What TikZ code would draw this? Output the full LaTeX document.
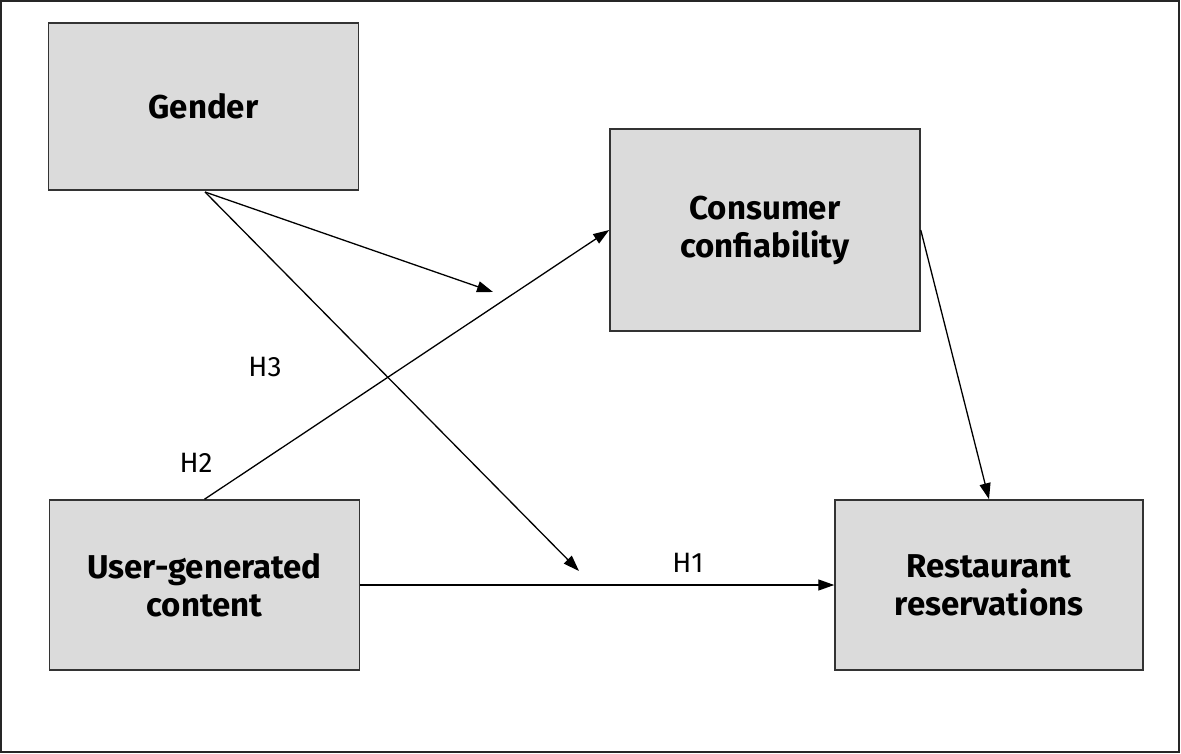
\documentclass[tikz,border=0pt]{standalone}
\usepackage{fontspec}
\setmainfont{Fira Sans}
\usetikzlibrary{arrows.meta}
\begin{document}
\begin{tikzpicture}[x=1pt,y=-1pt,
  box/.style={draw=black!80, line width=1.5pt, fill=black!14, minimum width=310pt, inner sep=0pt, align=center, font=\fontsize{33}{38}\selectfont\bfseries},
  arr/.style={line width=1.3pt, -{Triangle[length=16pt,width=11pt]}},
  lab/.style={font=\fontsize{28}{32}\selectfont}]
\useasboundingbox (0,0) rectangle (1181,754);
\draw[line width=2pt, black!85] (1,1) rectangle (1179,752);
\node[box, minimum height=167pt] (g) at (203.5,106.5) {Gender};
\node[box, minimum height=202pt] (c) at (765,230) {Consumer\\confiability};
\node[box, minimum height=170pt] (u) at (204.5,585) {User-generated\\content};
\node[box, minimum width=308pt, minimum height=170pt] (r) at (989,585) {Restaurant\\reservations};
\coordinate (gs) at (205,192);
\coordinate (m1) at (493,292);
\coordinate (m2) at (579,571);
\draw[arr] (gs) -- (m1);
\draw[arr] (gs) -- (m2);
\draw[arr] (u.north) -- (c.west);
\draw[arr] (u.east) -- (r.west);
\draw[arr] (c.east) -- (r.north);
\node[lab] (h3) at (265,367) {H3};
\node[lab] (h2) at (196,463) {H2};
\node[lab] (h1) at (688,563) {H1};
\end{tikzpicture}
\end{document}
